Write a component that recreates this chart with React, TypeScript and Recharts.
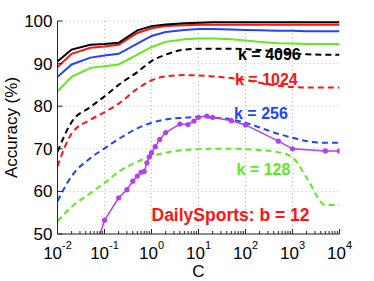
import React from 'react';
import { LineChart, Line, XAxis, YAxis, CartesianGrid, ReferenceLine } from 'recharts';

// C values shared by the eight k curves
const cGrid = [0.01, 0.02, 0.05, 0.1, 0.2, 0.5, 1, 2, 5, 10, 20, 50, 100, 200, 500, 1000, 2000, 5000, 10000];

// solid curves
const solidK4096 = [90.5, 93.3, 94.4, 94.6, 94.9, 97.8, 98.8, 99.2, 99.5, 99.6, 99.7, 99.7, 99.7, 99.7, 99.7, 99.7, 99.7, 99.7, 99.7];
const solidK1024 = [89.2, 92.3, 93.7, 94.0, 94.4, 97.2, 98.3, 98.8, 99.0, 99.1, 99.1, 99.1, 99.1, 99.1, 99.1, 99.1, 99.1, 99.1, 99.1];
const solidK256 = [86.9, 89.8, 91.4, 91.9, 92.3, 94.7, 96.5, 97.4, 97.9, 98.1, 98.1, 98.0, 97.9, 97.8, 97.7, 97.7, 97.6, 97.6, 97.6];
const solidK128 = [83.5, 86.9, 89.0, 89.4, 89.8, 92.1, 93.9, 95.1, 95.7, 95.9, 95.9, 95.7, 95.4, 95.1, 94.8, 94.7, 94.6, 94.6, 94.6];

// dashed curves
const dashK4096 = [69.3, 76.3, 79.8, 82.3, 85.0, 88.0, 90.6, 92.1, 93.3, 93.5, 93.5, 93.5, 93.4, 93.2, 92.8, 92.4, 92.2, 92.1, 92.1];
const dashK1024 = [65.9, 73.6, 76.8, 78.6, 80.6, 84.1, 86.1, 87.0, 87.3, 87.2, 87.0, 86.6, 86.2, 85.5, 84.8, 84.5, 84.4, 84.4, 84.4];
const dashK256 = [57.7, 63.6, 67.8, 70.1, 72.3, 74.8, 76.1, 76.9, 77.3, 77.5, 77.3, 76.9, 76.1, 75.0, 73.5, 72.6, 71.8, 71.4, 71.4];
const dashK128 = [53.0, 56.4, 59.6, 62.0, 64.6, 67.0, 68.3, 69.1, 69.7, 69.9, 70.0, 70.0, 69.9, 69.7, 69.2, 68.0, 63.2, 56.8, 56.8];

// magenta sweep with markers
const cSweep = [0.05, 0.1, 0.2, 0.3, 0.4, 0.5, 0.6, 0.7, 0.8, 0.9, 1, 1.2, 1.5, 2, 4, 6, 8, 10, 15, 20, 50, 100, 500, 1000, 5000, 10000];
const accSweep = [43, 53.2, 58.5, 60.4, 62.4, 63.6, 64.5, 64.7, 66.7, 68.1, 69.1, 70.5, 72.2, 73.8, 75.8, 75.7, 76.5, 77.4, 77.7, 77.4, 76.6, 75.6, 71.8, 70.0, 69.5, 69.5];

// axes
const xMajor = [0.01, 0.1, 1, 10, 100, 1000, 10000];
const xExp = ['-2', '-1', '0', '1', '2', '3', '4'];
const yTicks = [50, 60, 70, 80, 90, 100];

const xMinor: number[] = [];
for (let d = -2; d < 4; d++) {
  for (let m = 2; m <= 9; m++) xMinor.push(m * Math.pow(10, d));
}
const xAll = [...xMajor, ...xMinor].sort((a, b) => a - b);

const gridRows = cGrid.map((c, i) => ({
  c,
  s4096: solidK4096[i],
  s1024: solidK1024[i],
  s256: solidK256[i],
  s128: solidK128[i],
  d4096: dashK4096[i],
  d1024: dashK1024[i],
  d256: dashK256[i],
  d128: dashK128[i],
}));
const sweepRows = cSweep.map((c, i) => ({ c, acc: accSweep[i] }));

const FONT = '"Liberation Sans", Arial, Helvetica, sans-serif';
const AXIS = '#262626';
const BLACK = '#000000';
const RED = '#ff1414';
const BLUE = '#2342ff';
const GREEN = '#62e81c';
const MAGENTA = '#b141f0';

const BottomTick = (props: any) => {
  const { x, y, payload } = props;
  const i = xMajor.indexOf(payload.value);
  const major = i >= 0;
  return (
    <g>
      <line x1={x} x2={x} y1={y} y2={y - (major ? 5 : 3)} stroke={AXIS} strokeWidth={1} />
      {major && (
        <text x={x} y={y + 25} textAnchor="middle" fontFamily={FONT} fontSize={17} fill="#000">
          <tspan>10</tspan>
          <tspan dy={-10} fontSize={11}>{xExp[i]}</tspan>
        </text>
      )}
    </g>
  );
};

const TopTick = (props: any) => {
  const { x, y, payload } = props;
  const major = xMajor.indexOf(payload.value) >= 0;
  return <line x1={x} x2={x} y1={y} y2={y + (major ? 5 : 3)} stroke={AXIS} strokeWidth={1} />;
};

const LeftTick = (props: any) => {
  const { x, y, payload } = props;
  return (
    <g>
      <line x1={x} x2={x + 5} y1={y} y2={y} stroke={AXIS} strokeWidth={1} />
      <text x={x - 5} y={y + 6} textAnchor="end" fontFamily={FONT} fontSize={17} fill="#000">
        {payload.value}
      </text>
    </g>
  );
};

const RightTick = (props: any) => {
  const { x, y } = props;
  return <line x1={x} x2={x - 5} y1={y} y2={y} stroke={AXIS} strokeWidth={1} />;
};

const App: React.FC = () => {
  const solid = (key: string, color: string) => (
    <Line
      key={key}
      xAxisId="x"
      yAxisId="y"
      type="linear"
      dataKey={key}
      stroke={color}
      strokeWidth={2}
      dot={false}
      isAnimationActive={false}
    />
  );
  const dashed = (key: string, color: string) => (
    <Line
      key={key}
      xAxisId="x"
      yAxisId="y"
      type="monotone"
      dataKey={key}
      stroke={color}
      strokeWidth={2}
      strokeDasharray="6 4"
      dot={false}
      isAnimationActive={false}
    />
  );

  return (
    <div style={{ position: 'absolute', left: 0, top: 0, width: 374, height: 281, background: '#fff' }}>
      <LineChart
        width={374}
        height={281}
        data={gridRows}
        margin={{ top: 21, right: 34.5, bottom: 13, left: 0 }}
      >
        <CartesianGrid xAxisId="x" yAxisId="y" vertical={false} stroke="#b8b8b8" strokeDasharray="1 3" />
        <XAxis
          xAxisId="x"
          dataKey="c"
          type="number"
          scale="log"
          domain={[0.01, 10000]}
          allowDataOverflow
          ticks={xAll}
          interval={0}
          height={34}
          tickSize={0}
          tickMargin={0}
          tickLine={false}
          tick={<BottomTick />}
          axisLine={{ stroke: AXIS, strokeWidth: 1 }}
        />
        <XAxis
          xAxisId="top"
          orientation="top"
          dataKey="c"
          type="number"
          scale="log"
          domain={[0.01, 10000]}
          allowDataOverflow
          ticks={xAll}
          interval={0}
          height={0}
          tickSize={0}
          tickMargin={0}
          tickLine={false}
          tick={<TopTick />}
          axisLine={{ stroke: AXIS, strokeWidth: 1 }}
        />
        <YAxis
          yAxisId="y"
          type="number"
          domain={[50, 100]}
          allowDataOverflow
          ticks={yTicks}
          interval={0}
          width={57.5}
          tickSize={0}
          tickMargin={0}
          tickLine={false}
          tick={<LeftTick />}
          axisLine={{ stroke: AXIS, strokeWidth: 1 }}
        />
        <YAxis
          yAxisId="right"
          orientation="right"
          type="number"
          domain={[50, 100]}
          allowDataOverflow
          ticks={yTicks}
          interval={0}
          width={0}
          tickSize={0}
          tickMargin={0}
          tickLine={false}
          tick={<RightTick />}
          axisLine={{ stroke: AXIS, strokeWidth: 1 }}
        />
        {xMajor.slice(1, -1).map((v) => (
          <ReferenceLine key={v} xAxisId="x" yAxisId="y" x={v} stroke="#b8b8b8" strokeDasharray="1 3" />
        ))}
        {dashed('d128', GREEN)}
        {dashed('d256', BLUE)}
        {dashed('d1024', RED)}
        {dashed('d4096', BLACK)}
        {solid('s128', GREEN)}
        {solid('s256', BLUE)}
        {solid('s1024', RED)}
        {solid('s4096', BLACK)}
        <Line
          xAxisId="x"
          yAxisId="y"
          data={sweepRows}
          type="linear"
          dataKey="acc"
          stroke={MAGENTA}
          strokeWidth={1.5}
          dot={{ r: 2.6, fill: MAGENTA, stroke: MAGENTA, strokeWidth: 0 }}
          isAnimationActive={false}
        />
      </LineChart>
      <svg
        width={374}
        height={281}
        style={{ position: 'absolute', left: 0, top: 0, pointerEvents: 'none' }}
        fontFamily={FONT}
      >
        <text x={198.5} y={277} textAnchor="middle" fontSize={17} fill="#000">C</text>
        <text
          x={17}
          y={127.5}
          textAnchor="middle"
          fontSize={17}
          fill="#000"
          transform="rotate(-90 17 127.5)"
        >
          Accuracy (%)
        </text>
        <text x={238} y={59.5} fontSize={16} fontWeight="bold" fill={BLACK}>k = 4096</text>
        <text x={235} y={85} fontSize={16} fontWeight="bold" fill={RED}>k = 1024</text>
        <text x={234} y={119} fontSize={16} fontWeight="bold" fill={BLUE}>k = 256</text>
        <text x={236.5} y={175} fontSize={16} fontWeight="bold" fill={GREEN}>k = 128</text>
        <text x={151.5} y={220.5} fontSize={17.5} fontWeight="bold" fill={RED}>DailySports: b = 12</text>
      </svg>
    </div>
  );
};

export default App;
